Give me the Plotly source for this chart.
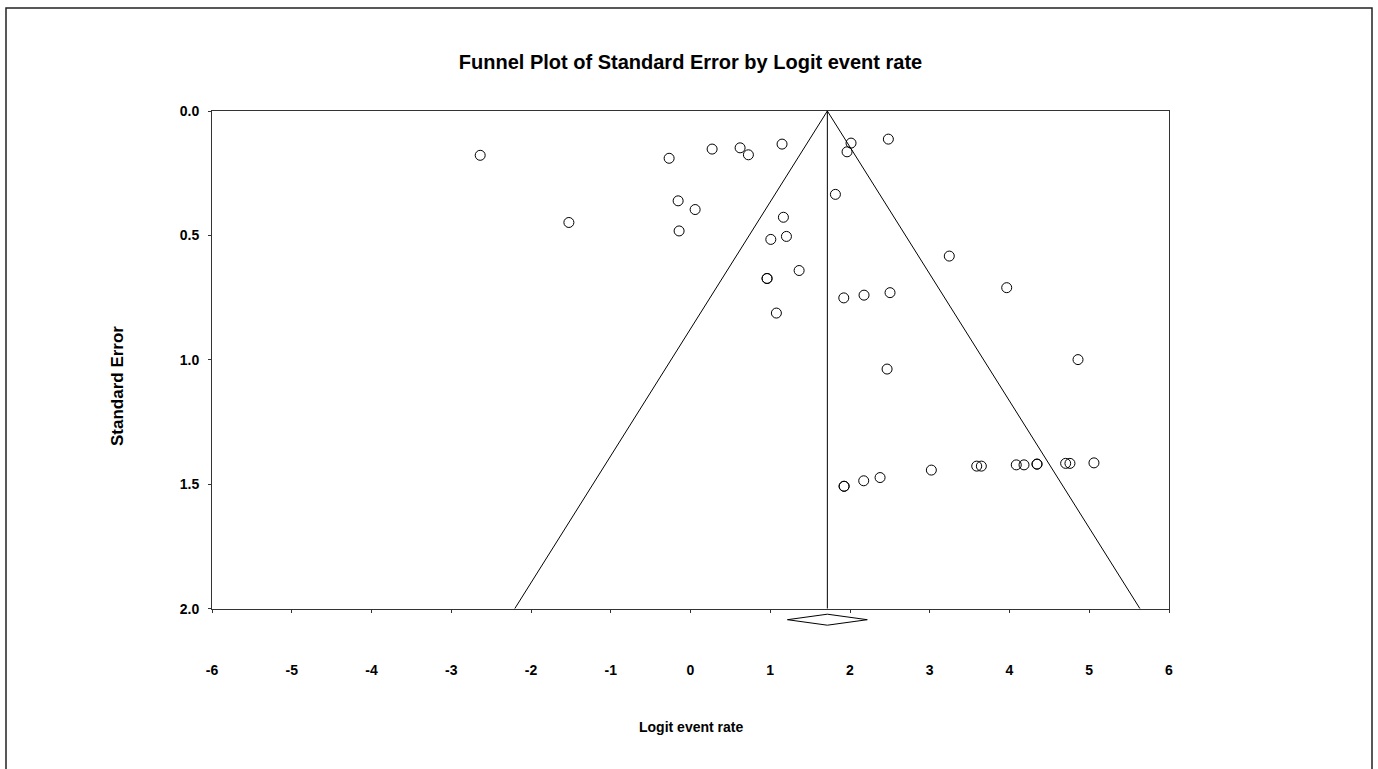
import plotly.graph_objects as go

# ---- data ----
logit_event_rate = [-2.637, -1.525, -0.268, 0.271, 0.622, 0.726, 1.148, 2.013, 1.963, 2.481,
                    1.817, -0.155, 0.058, -0.143, 1.165, 1.007, 1.203, 0.960, 0.960, 1.362,
                    1.077, 1.922, 2.176, 2.502, 3.245, 3.965, 2.465, 4.859, 1.926, 1.926,
                    2.172, 2.377, 3.020, 3.589, 3.647, 4.085, 4.182, 4.345, 4.345, 4.704,
                    4.758, 5.059]
standard_error = [0.178, 0.448, 0.190, 0.153, 0.148, 0.176, 0.133, 0.129, 0.164, 0.113,
                  0.335, 0.361, 0.396, 0.482, 0.427, 0.516, 0.504, 0.673, 0.673, 0.641,
                  0.812, 0.751, 0.740, 0.730, 0.583, 0.710, 1.037, 0.999, 1.508, 1.508,
                  1.486, 1.473, 1.443, 1.427, 1.427, 1.422, 1.422, 1.419, 1.419, 1.416,
                  1.416, 1.414]
pooled_estimate = 1.716
pooled_ci = [1.215, 2.217]
se_max = 2.0
z_value = 1.96

x_tick_values = [-6, -5, -4, -3, -2, -1, 0, 1, 2, 3, 4, 5, 6]
x_tick_labels = ["-6", "-5", "-4", "-3", "-2", "-1", "0", "1", "2", "3", "4", "5", "6"]
y_tick_values = [0.0, 0.5, 1.0, 1.5, 2.0]
y_tick_labels = ["0.0", "0.5", "1.0", "1.5", "2.0"]

# ---- layout constants (pixels) ----
W, H = 1378, 769
ML, MR, MT, MB = 212, 209, 111, 30
PW, PH = W - ML - MR, H - MT - MB


def py(page_y):
    return (H - MB - page_y) / PH


def px(page_x):
    return (page_x - ML) / PW


FONT = "Liberation Sans, Arial, sans-serif"
LINE = "#333333"

fig = go.Figure()

# funnel (pseudo 95% limits)
fig.add_trace(go.Scatter(
    x=[pooled_estimate - z_value * se_max, pooled_estimate, pooled_estimate + z_value * se_max],
    y=[se_max, 0, se_max],
    mode="lines", line=dict(color="black", width=1), hoverinfo="skip", showlegend=False))
fig.add_trace(go.Scatter(
    x=[pooled_estimate, pooled_estimate], y=[0, se_max],
    mode="lines", line=dict(color="black", width=1), hoverinfo="skip", showlegend=False))

# studies
fig.add_trace(go.Scatter(
    x=logit_event_rate, y=standard_error, mode="markers",
    marker=dict(symbol="circle-open", size=10, color="black", line=dict(width=1)),
    showlegend=False))

# pooled diamond below the axis
fig.add_trace(go.Scatter(
    x=[pooled_ci[0], pooled_estimate, pooled_ci[1], pooled_estimate, pooled_ci[0]],
    y=[0, 1, 0, -1, 0], xaxis="x", yaxis="y2",
    mode="lines", line=dict(color="black", width=1), hoverinfo="skip", showlegend=False))

fig.update_layout(
    width=W, height=H,
    margin=dict(l=ML, r=MR, t=MT, b=MB),
    paper_bgcolor="white", plot_bgcolor="white",
    font=dict(family=FONT, color="black"),
    title=dict(text="<b>Funnel Plot of Standard Error by Logit event rate</b>",
               x=0.5, xanchor="center", xref="paper",
               y=1 - 62 / H, yref="container", yanchor="middle",
               font=dict(size=20, family=FONT, color="black")),
    xaxis=dict(range=[-6, 6], tickvals=x_tick_values, ticktext=x_tick_labels,
               ticks="outside", ticklen=3, tickcolor=LINE, ticklabelstandoff=45,
               tickfont=dict(size=14, family=FONT, color="black", weight="bold"),
               showline=True, linecolor=LINE, linewidth=1, mirror=True,
               showgrid=False, zeroline=False, anchor="y"),
    yaxis=dict(range=[2, 0], domain=[py(608.7), 1], tickvals=y_tick_values, ticktext=y_tick_labels,
               ticks="outside", ticklen=3, tickcolor=LINE, ticklabelstandoff=6,
               tickfont=dict(size=14, family=FONT, color="black", weight="bold"),
               showline=True, linecolor=LINE, linewidth=1, mirror=True,
               showgrid=False, zeroline=False, anchor="x"),
    yaxis2=dict(range=[-2, 2], domain=[py(630.7), py(608.7)], visible=False,
                anchor="x", showgrid=False, zeroline=False, fixedrange=True),
    annotations=[
        dict(text="<b>Logit event rate</b>", xref="paper", yref="paper",
             x=0.5, y=py(727), xanchor="center", yanchor="middle", showarrow=False,
             font=dict(size=14, family=FONT, color="black")),
        dict(text="<b>Standard Error</b>", xref="paper", yref="paper", textangle=-90,
             x=px(117), y=py(386), xanchor="center", yanchor="middle", showarrow=False,
             font=dict(size=17, family=FONT, color="black")),
    ],
    shapes=[
        dict(type="rect", xref="paper", yref="paper",
             x0=px(6), x1=px(1372), y0=py(775), y1=py(8),
             line=dict(color="#222222", width=1.5), fillcolor="rgba(0,0,0,0)", layer="below"),
    ],
)

fig.write_html("out.html")
